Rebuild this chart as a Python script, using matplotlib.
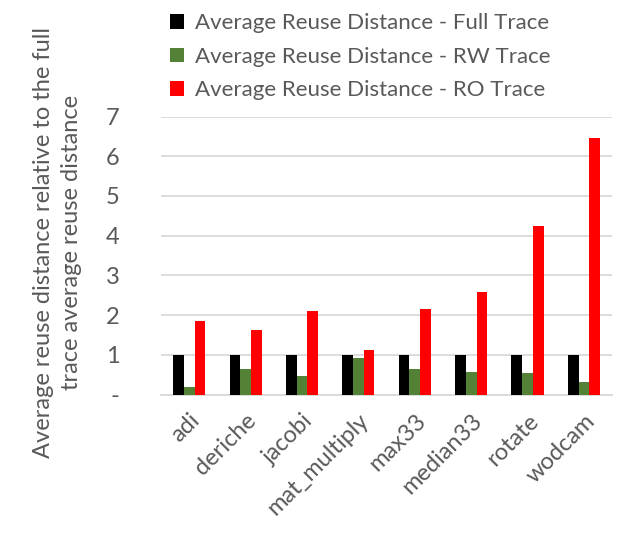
import matplotlib
matplotlib.use("Agg")
import matplotlib.pyplot as plt
import numpy as np

categories = ["adi", "deriche", "jacobi", "mat_multiply", "max33", "median33", "rotate", "wodcam"]
full_trace = [1.0, 1.0, 1.0, 1.0, 1.0, 1.0, 1.0, 1.0]
rw_trace = [0.19, 0.65, 0.47, 0.92, 0.65, 0.57, 0.55, 0.32]
ro_trace = [1.86, 1.63, 2.11, 1.13, 2.16, 2.59, 4.25, 6.47]
series_names = ["Average Reuse Distance - Full Trace",
                "Average Reuse Distance - RW Trace",
                "Average Reuse Distance - RO Trace"]
y_ticks = [0, 1, 2, 3, 4, 5, 6, 7]
y_tick_labels = ["-", "1", "2", "3", "4", "5", "6", "7"]

plt.rcParams['font.family'] = ['Lato', 'DejaVu Sans']
txt = '#595959'
fs = 17

fig = plt.figure(figsize=(6.24, 5.42), dpi=100)
ax = fig.add_axes([0.258, 0.272, 0.723, 0.513])

x = np.arange(len(categories))
w = 0.19
colors = ['#000000', '#538135', '#ff0000']
bars = []
for i, (vals, c) in enumerate(zip([full_trace, rw_trace, ro_trace], colors)):
    b = ax.bar(x + (i - 1) * w, vals, w, color=c, zorder=3, label=series_names[i])
    bars.append(b)

ax.set_xlim(-0.5, len(categories) - 0.5)
ax.set_ylim(0, 7)
ax.set_yticks(y_ticks)
ax.set_yticklabels(y_tick_labels, fontsize=fs, color=txt)
ax.yaxis.grid(True, color='#d9d9d9', linewidth=1.3, zorder=0)
ax.set_axisbelow(True)
ax.tick_params(axis='y', length=0, pad=30)
ax.tick_params(axis='x', length=0, pad=11)
ax.set_xticks(x)
ax.set_xticklabels(categories, rotation=45, ha='right', rotation_mode='anchor',
                   fontsize=fs, color=txt)
for s in ['top', 'right', 'left']:
    ax.spines[s].set_visible(False)
ax.spines['bottom'].set_color('#d9d9d9')
ax.spines['bottom'].set_linewidth(1.3)

fig.text(0.092, 0.553, "Average reuse distance relative to the full\ntrace average reuse distance",
         rotation=90, ha='center', va='center', fontsize=fs, color=txt,
         linespacing=1.4, multialignment='center')

fig.legend(handles=bars, labels=series_names, loc='upper left',
           bbox_to_anchor=(0.24, 1.012), frameon=False, fontsize=16,
           labelcolor=txt, handlelength=0.62, handleheight=0.62,
           handletextpad=0.5, labelspacing=0.6)

fig.savefig("out.png", dpi=100)
